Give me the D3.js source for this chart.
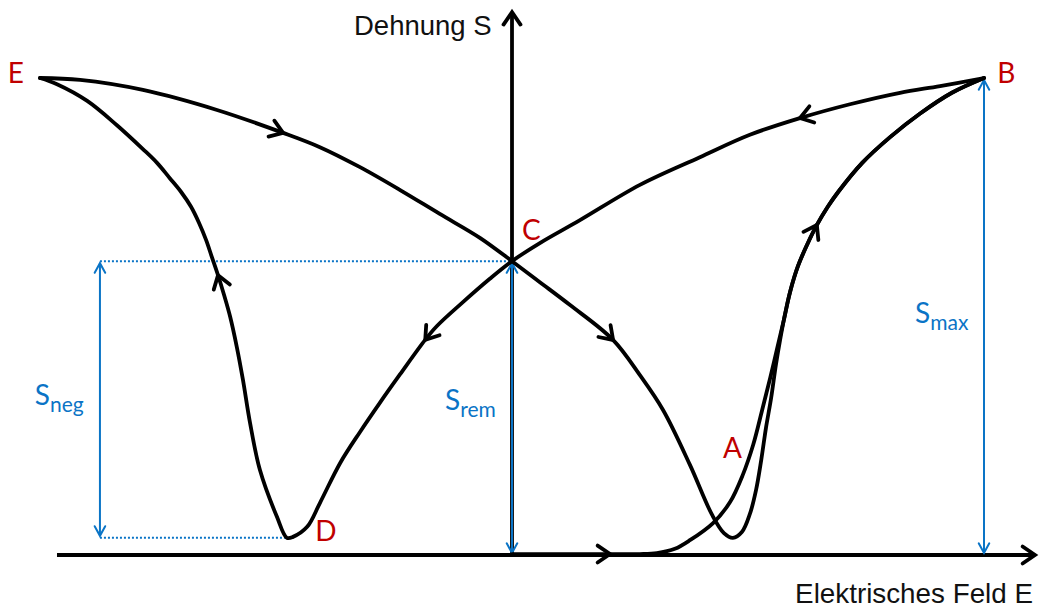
<!DOCTYPE html>
<html>
<head>
<meta charset="utf-8">
<script src="https://cdn.jsdelivr.net/npm/d3@7"></script>
<style>
  body { margin: 0; background: #fff; }
  svg { display: block; }
</style>
</head>
<body>
<svg id="chart" width="1044" height="609"></svg>
<script>
// Butterfly curve: strain S versus electric field E (normalised, S_max = 100, E_max = 100)

// Virgin curve: origin -> B
const virginE = [0, 10.2, 20.8, 27.1, 30.7, 34.5, 37.7, 42.6, 46.2, 48.9, 51.1, 53.0, 54.7, 56.1, 57.6,
                 58.9, 60.6, 62.5, 64.6, 66.9, 69.1, 74.2, 80.1, 86.4, 93.2, 100];
const virginS = [0.2, 0.2, 0.2, 0.2, 0.4, 1.3, 3.1, 6.7, 11.1, 16.8, 23.1, 30.4, 37.1, 43.0, 49.3,
                 55.1, 60.6, 65.0, 69.2, 73.0, 76.1, 82.2, 87.6, 92.5, 96.9, 100];

// Descending field branch: B -> C -> D -> E
const descE = [100, 90.7, 82.2, 71.6, 61.0, 50.4, 39.8, 27.1, 14.4, 5.9, 0,
               -4.7, -10.4, -15.9, -18.4, -23.7, -28.0, -32.2, -36.4, -40.7, -43.4, -46.4, -47.7,
               -49.8, -53.4, -55.5, -57.0, -58.3, -59.7, -61.0, -62.3, -63.6, -64.8,
               -66.3, -68.0, -70.1, -72.5, -75.2, -78.2, -83.7, -90.0, -96.4, -100];
const descS = [100, 98.3, 96.9, 94.5, 91.6, 88.1, 83.4, 77.6, 70.2, 65.4, 61.6,
               57.9, 53.0, 48.0, 45.1, 37.9, 31.9, 25.8, 19.3, 10.9, 5.9, 3.8, 3.6,
               8.0, 17.8, 27.7, 36.7, 43.6, 49.9, 54.5, 58.7, 62.5, 66.0,
               69.6, 73.0, 76.1, 79.0, 82.2, 85.1, 90.1, 95.2, 98.7, 100];

// Ascending field branch: E -> C -> A -> B
const ascE = [-100, -91.5, -78.2, -62.5, -48.5, -40.7, -32.2, -23.7, -15.3, -6.8, 0,
              5.9, 12.3, 21.4, 27.1, 32.0, 37.7, 42.4, 44.9, 46.8,
              48.7, 50.4, 51.7, 52.8, 53.8, 54.9, 55.9, 56.8, 57.6,
              58.9, 60.6, 62.5, 64.6, 66.9, 69.1, 74.2, 80.1, 86.4, 93.2, 100];
const ascS = [100, 99.6, 97.5, 93.3, 88.5, 85.5, 81.3, 76.5, 71.5, 66.5, 61.6,
              57.2, 52.4, 45.1, 37.7, 30.4, 18.9, 8.4, 4.6, 3.6,
              4.8, 8.6, 13.6, 19.9, 26.6, 32.9, 39.8, 45.1, 49.3,
              55.1, 60.6, 65.0, 69.2, 73.0, 76.1, 82.2, 87.6, 92.5, 96.9, 100];

// Direction arrows: index of the curve point where an arrowhead sits
const virginArrows = [2];
const descArrows = [4, 14, 30];
const ascArrows = [4, 13, 32];

// Characteristic values
const sMax = 100;
const sRem = 61.6;
const sMin = 3.6;            // lowest strain at negative coercive field (point D)
const eAtD = -47.7;
const annotE = { neg: -87.3, max: 100 };

// Axis extents
const axisE = [-96.4, 110.8];
const axisS = [0, 113.8];

// Point labels
const pointNames = ["A", "B", "C", "D", "E"];
const pointLabelE = [44.7, 102.8, 2.1, -41.7, -103.4];
const pointLabelS = [20.3, 99.0, 66.0, 2.9, 99.0];

// Annotation labels (main letter + subscript)
const annotSubs = ["neg", "rem", "max"];
const annotLabelE = [-101.1, -14.2, 85.4];
const annotLabelS = [31.4, 30.4, 48.6];

const axisTitles = ["Dehnung S", "Elektrisches Feld E"];

const BLACK = "#000";
const BLUE = "#0a74c6";
const RED = "#c00000";
const LW = 3.8;

const svg = d3.select("#chart");
const x = d3.scaleLinear().domain([-100, 100]).range([40, 984]);
const y = d3.scaleLinear().domain([0, 100]).range([555, 78]);

const toPts = (E, S) => E.map((e, i) => [x(e), y(S[i])]);

function chevron(g, px, py, ang, len, spread, color, width) {
  // open arrowhead whose tip is at (px,py), pointing in direction ang
  const a1 = ang + Math.PI - spread, a2 = ang + Math.PI + spread;
  g.append("path")
    .attr("d", `M${px + len * Math.cos(a1)},${py + len * Math.sin(a1)}L${px},${py}L${px + len * Math.cos(a2)},${py + len * Math.sin(a2)}`)
    .attr("fill", "none").attr("stroke", color).attr("stroke-width", width)
    .attr("stroke-linecap", "round").attr("stroke-linejoin", "miter");
}

// ---- axes ----
const axes = svg.append("g");
axes.append("line")
  .attr("x1", x(axisE[0])).attr("x2", x(axisE[1]))
  .attr("y1", y(0)).attr("y2", y(0))
  .attr("stroke", BLACK).attr("stroke-width", LW);
axes.append("line")
  .attr("x1", x(0)).attr("x2", x(0))
  .attr("y1", y(axisS[0])).attr("y2", y(axisS[1]))
  .attr("stroke", BLACK).attr("stroke-width", LW);
chevron(axes, x(axisE[1]), y(0), 0, 15, 0.6, BLACK, LW);
chevron(axes, x(0), y(axisS[1]), -Math.PI / 2, 15, 0.6, BLACK, LW);

axes.append("text")
  .attr("x", 354).attr("y", 35)
  .attr("font-family", "Liberation Sans, Arial, sans-serif").attr("font-size", 27.5)
  .attr("fill", "#111").text(axisTitles[0]);
axes.append("text")
  .attr("x", 1033).attr("y", 603).attr("text-anchor", "end")
  .attr("font-family", "Liberation Sans, Arial, sans-serif").attr("font-size", 27.8)
  .attr("fill", "#111").text(axisTitles[1]);

// ---- blue annotations ----
const ann = svg.append("g");
// dotted guides
ann.append("line")
  .attr("x1", x(annotE.neg)).attr("x2", x(0))
  .attr("y1", y(sRem)).attr("y2", y(sRem))
  .attr("stroke", BLUE).attr("stroke-width", 2).attr("stroke-dasharray", "2,2");
ann.append("line")
  .attr("x1", x(annotE.neg)).attr("x2", x(eAtD))
  .attr("y1", y(sMin)).attr("y2", y(sMin))
  .attr("stroke", BLUE).attr("stroke-width", 2).attr("stroke-dasharray", "2,2");

function dimArrow(e, s0, s1) {
  const xp = x(e), ya = y(s0) - 2, yb = y(s1) + 2;
  ann.append("line").attr("x1", xp).attr("x2", xp).attr("y1", ya).attr("y2", yb)
    .attr("stroke", BLUE).attr("stroke-width", 2);
  chevron(ann, xp, ya, Math.PI / 2, 11, 0.5, BLUE, 2);
  chevron(ann, xp, yb, -Math.PI / 2, 11, 0.5, BLUE, 2);
}
dimArrow(annotE.neg, sMin, sRem);
dimArrow(0, 0, sRem);
dimArrow(annotE.max, 0, sMax);

annotSubs.forEach((sub, i) => {
  const t = ann.append("text")
    .attr("x", x(annotLabelE[i])).attr("y", y(annotLabelS[i]))
    .attr("font-family", "Lato, 'Open Sans', sans-serif").attr("font-size", 28)
    .attr("fill", BLUE);
  t.append("tspan").text("S");
  t.append("tspan").attr("font-size", 21).attr("dy", 7).text(sub);
});

// ---- curves ----
const line = d3.line().curve(d3.curveCatmullRom.alpha(0.5));
const curves = svg.append("g");

function drawCurve(E, S, arrowIdx) {
  const pts = toPts(E, S);
  const path = curves.append("path")
    .attr("d", line(pts))
    .attr("fill", "none").attr("stroke", BLACK).attr("stroke-width", LW)
    .attr("stroke-linejoin", "round").attr("stroke-linecap", "round");
  const node = path.node();
  const total = node.getTotalLength();
  arrowIdx.forEach(k => {
    const [tx, ty] = pts[k];
    let best = 0, bestD = Infinity;
    for (let l = 0; l <= total; l += 0.5) {
      const p = node.getPointAtLength(l);
      const d = (p.x - tx) ** 2 + (p.y - ty) ** 2;
      if (d < bestD) { bestD = d; best = l; }
    }
    const p0 = node.getPointAtLength(Math.max(0, best - 3));
    const p1 = node.getPointAtLength(Math.min(total, best + 3));
    const ang = Math.atan2(p1.y - p0.y, p1.x - p0.x);
    const tip = node.getPointAtLength(best);
    chevron(curves, tip.x, tip.y, ang, 15, 0.6, BLACK, LW);
  });
}
drawCurve(virginE, virginS, virginArrows);
drawCurve(descE, descS, descArrows);
drawCurve(ascE, ascS, ascArrows);

// ---- point labels ----
svg.append("g").selectAll("text").data(pointNames).join("text")
  .attr("x", (d, i) => x(pointLabelE[i]))
  .attr("y", (d, i) => y(pointLabelS[i]))
  .attr("text-anchor", d => d === "E" ? "end" : "start")
  .attr("font-family", "Lato, 'Open Sans', sans-serif").attr("font-size", 28)
  .attr("fill", RED)
  .text(d => d);
</script>
</body>
</html>
